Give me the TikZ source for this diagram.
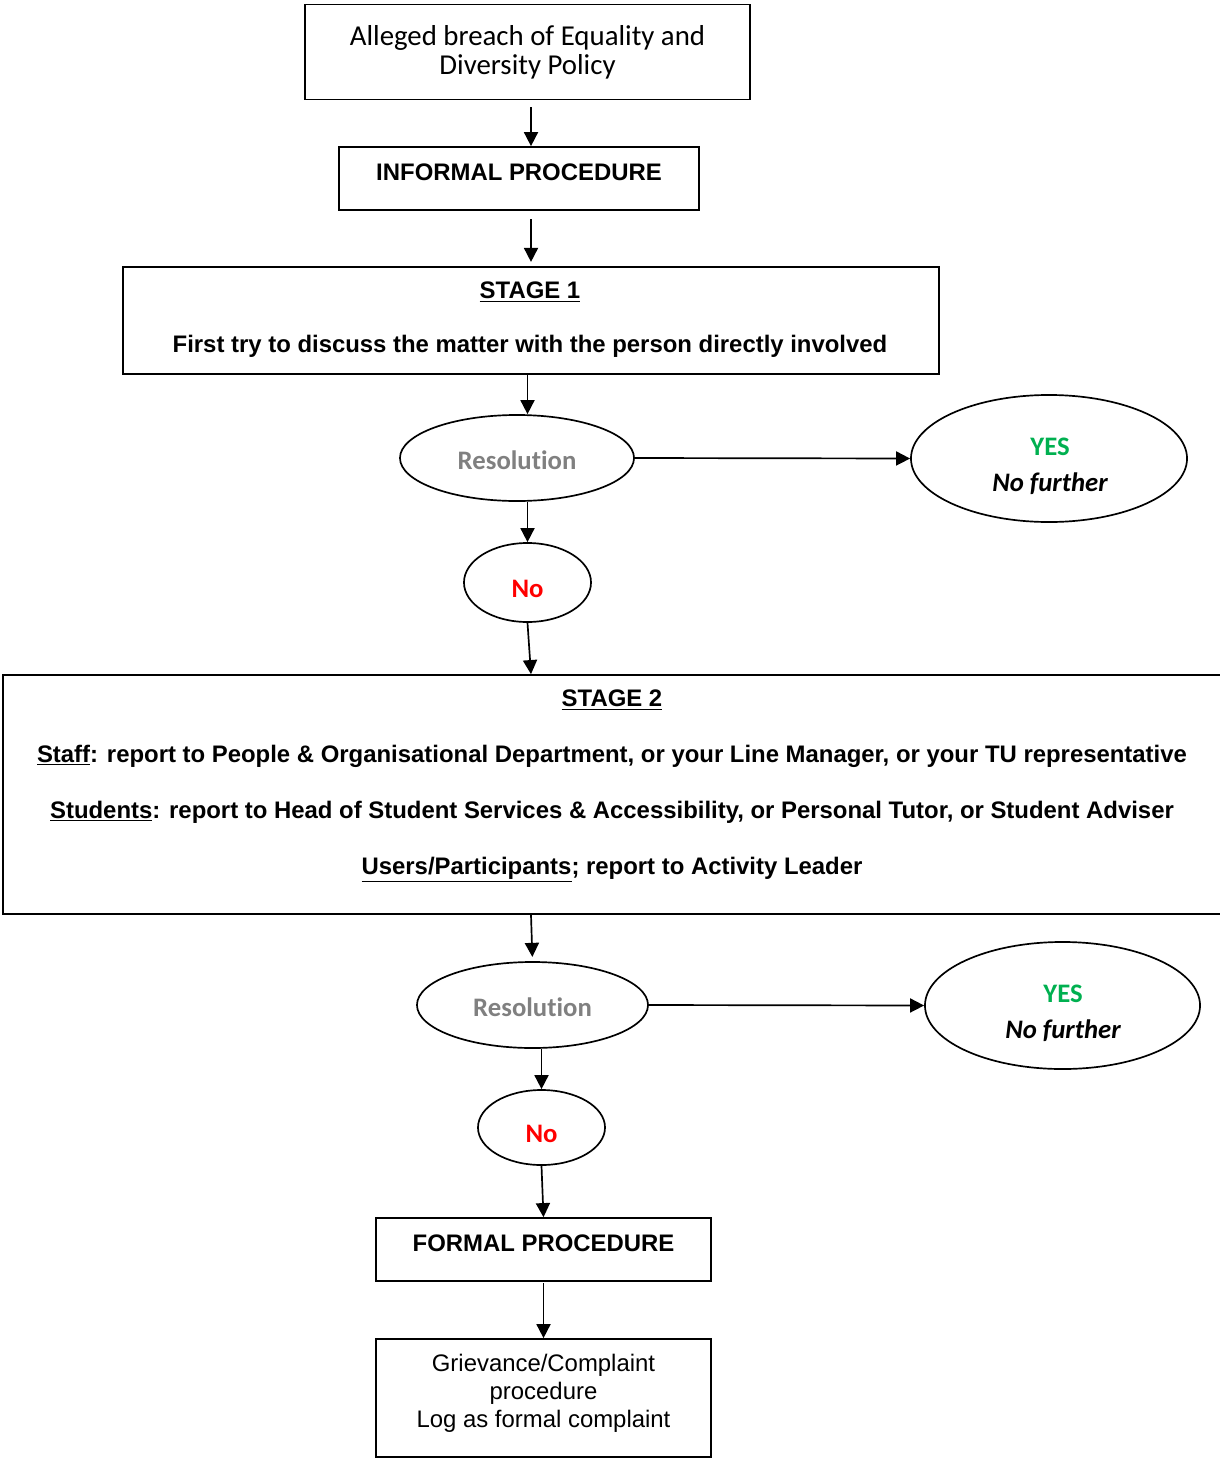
\documentclass[tikz,border=0pt]{standalone}
\usepackage{fontspec}
\setmainfont{Liberation Sans}
\newfontfamily\calibri[Ligatures=CommonOff]{Carlito}
\usetikzlibrary{shapes.geometric,arrows.meta}
\definecolor{resgray}{HTML}{808080}
\definecolor{yesgreen}{HTML}{00B050}
\definecolor{nored}{HTML}{FF0000}

\begin{document}
\begin{tikzpicture}[x=0.025cm,y=-0.025cm]
	\tikzstyle{box}=[draw, line width=1.2pt, inner sep=0pt]
	\tikzstyle{oval}=[draw, ellipse, line width=1.2pt, inner sep=0pt]
	\tikzstyle{arrow}=[-{Triangle[length=10pt,width=10pt]}, line width=1.2pt]
	\tikzstyle{arial}=[font=\bfseries\fontsize{17}{20}\selectfont]
	\tikzstyle{cal}=[font=\calibri\fontsize{19}{25.6}\selectfont]
	\useasboundingbox (0,0) rectangle (1220,1459);
	% informal part
	\node[box, minimum width=11.125cm, minimum height=2.375cm, align=center,
		font=\calibri\fontsize{20.5}{20.6}\selectfont] (allege) at (527.5,52)
		{Alleged breach of Equality and\\Diversity Policy};
	\node[box, arial, minimum width=9cm, minimum height=1.575cm,
		text height=12.2pt, text depth=9.2pt] (informal) at (519,178.5) {INFORMAL PROCEDURE};
	\node[box, minimum width=20.4cm, minimum height=2.675cm] (stageone) at (531,320.5) {};
	\node[align=center, font=\bfseries\fontsize{17}{38.4}\selectfont] (stageonetxt) at (530,320)
		{\underline{STAGE 1}\\First try to discuss the matter with the person directly involved};
	\node[oval, cal, minimum width=5.85cm, minimum height=2.15cm, text=resgray,
		text height=17.4pt, text depth=1pt] (resone) at (517,458) {\bfseries Resolution};
	\node[oval, minimum width=6.9cm, minimum height=3.175cm] (yesone) at (1049,458.5) {};
	\node[cal, align=center] (yesonetxt) at (1050,466) {\textcolor{yesgreen}{\bfseries YES}\\\bfseries\itshape No further};
	\node[oval, cal, minimum width=3.175cm, minimum height=1.975cm, text=nored,
		text height=22pt, text depth=1.2pt] (noone) at (527.5,582.5) {\bfseries No};
	% stage 2
	\node[box, minimum width=30.45cm, minimum height=5.975cm] (stagetwo) at (612,794.5) {};
	\node[align=center, font=\bfseries\fontsize{17}{39.7}\selectfont] (stagetwotxt) at (612,786)
		{\underline{STAGE 2}\\
		\underline{Staff}: report to People \& Organisational Department, or your Line Manager, or your TU representative\\
		\underline{Students}: report to Head of Student Services \& Accessibility, or Personal Tutor, or Student Adviser\\
		\underline{Users/Participants}; report to Activity Leader};
	\node[oval, cal, minimum width=5.775cm, minimum height=2.15cm, text=resgray,
		text height=17.4pt, text depth=1pt] (restwo) at (532.5,1005) {\bfseries Resolution};
	\node[oval, minimum width=6.875cm, minimum height=3.175cm] (yestwo) at (1062.5,1005.5) {};
	\node[cal, align=center] (yestwotxt) at (1063,1013) {\textcolor{yesgreen}{\bfseries YES}\\\bfseries\itshape No further};
	\node[oval, cal, minimum width=3.175cm, minimum height=1.875cm, text=nored,
		text height=22pt, text depth=1.2pt] (notwo) at (541.5,1127.5) {\bfseries No};
	% formal part
	\node[box, arial, minimum width=8.375cm, minimum height=1.575cm,
		text height=12.2pt, text depth=9.2pt] (formal) at (543.5,1249.5) {FORMAL PROCEDURE};
	\node[box, minimum width=8.375cm, minimum height=2.95cm] (griev) at (543.5,1398) {};
	\node[align=center, font=\fontsize{17}{19.9}\selectfont] (grievtxt) at (543.5,1393)
		{Grievance/Complaint\\procedure\\Log as formal complaint};
	% connectors
	\draw[arrow, shorten <=5pt] (allege.south -| stageone) -- (informal.north -| stageone);
	\draw[arrow, shorten <=6pt, shorten >=3pt] (informal.south -| stageone) -- (stageone.north);
	\draw[arrow] (stageone.south -| noone) -- (resone.north -| noone);
	\draw[arrow] (resone.east) -- (yesone.west);
	\draw[arrow] (resone.south -| noone) -- (noone.north);
	\draw[arrow] (noone.south) -- (stagetwo.north -| stageone);
	\draw[arrow, shorten >=3pt] (stagetwo.south -| stageone) -- (restwo.north);
	\draw[arrow] (restwo.east) -- (yestwo.west);
	\draw[arrow] (restwo.south -| notwo) -- (notwo.north);
	\draw[arrow] (notwo.south) -- (formal.north);
	\draw[arrow, shorten <=1pt] (formal.south) -- (griev.north);
\end{tikzpicture}
\end{document}
